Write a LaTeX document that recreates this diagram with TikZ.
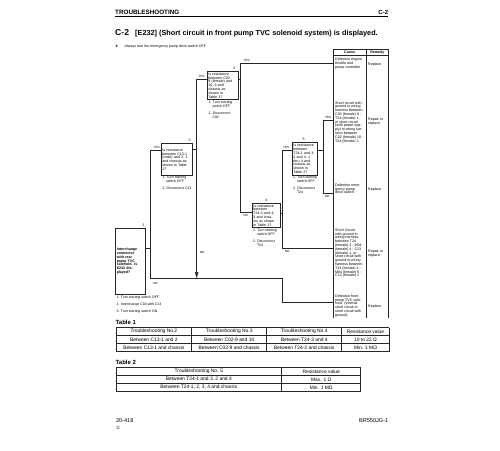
\documentclass[tikz,border=0pt]{standalone}
\usepackage{fontspec}
\setmainfont{Liberation Sans}
\newfontfamily\symfont{DejaVu Sans}
\usetikzlibrary{arrows.meta}
\begin{document}
\begin{tikzpicture}[x=1pt,y=-1pt,
  conn/.style={line width=0.5pt, draw=black!85},
  tline/.style={line width=0.5pt, draw=black!85},
  qbox/.style={draw=black!85, line width=0.5pt, anchor=north west, inner xsep=1.5pt, inner ysep=0pt, align=left, font=\fontsize{3.6}{3.8}\selectfont},
  note/.style={anchor=north west, inner sep=0pt, align=left, font=\fontsize{3.5}{3.6}\selectfont},
  lbl/.style={inner sep=0pt, font=\fontsize{3.0}{3.2}\selectfont},
  num/.style={inner sep=0pt, font=\fontsize{3.6}{3.8}\selectfont},
  cause/.style={anchor=north west, inner sep=0pt, align=left, font=\fontsize{3.6}{3.8}\selectfont},
  cell/.style={inner sep=0pt, font=\fontsize{4.9}{5.5}\selectfont},
  ttl/.style={inner sep=0pt, anchor=base west, font=\bfseries\fontsize{7.3}{8}\selectfont}]
\useasboundingbox (0,0) rectangle (500,450);
\fill[white] (0,0) rectangle (500,450);

% header
\node[inner sep=0pt, anchor=base west, font=\bfseries\fontsize{6.3}{7}\selectfont] (hdl) at (115,14.8) {TROUBLESHOOTING};
\node[inner sep=0pt, anchor=base east, font=\bfseries\fontsize{6}{7}\selectfont] (hdr) at (388.3,14.8) {C-2};
\draw[line width=0.9pt] (hdl.base west) ++(0,1.6) coordinate (rl) -- (rl -| hdr.east);
\node[inner sep=0pt, anchor=base west, font=\bfseries\fontsize{8.6}{9}\selectfont] (tnum) at (115,35.9) {C-2};
\node[ttl] (ttext) at (135,35.7) {[E232] (Short circuit in front pump TVC solenoid system) is displayed.};
\node[inner sep=0pt, anchor=west, font=\symfont\fontsize{3.6}{4}\selectfont] (star) at (115,46.2) {★};
\node[inner sep=0pt, anchor=west, font=\fontsize{3.6}{4}\selectfont] (warn) at (124.5,46.2) {Always turn the emergency pump drive switch OFF.};

% cause / remedy table
\draw[tline] (333.3,49.3) -- (388.7,49.3);
\draw[tline] (333.3,55) -- (388.7,55);
\foreach \x in {333.3,366,388.7} \draw[tline] (\x,49.3) -- (\x,318);
\node[cell, font=\bfseries\fontsize{3.6}{4}\selectfont] (hc) at (349.6,52.3) {Cause};
\node[cell, font=\bfseries\fontsize{3.6}{4}\selectfont] (hr) at (377.3,52.3) {Remedy};
\coordinate (r1) at (333.3,63);
\coordinate (r2) at (333.3,120);
\coordinate (r3) at (333.3,193);
\coordinate (r4) at (333.3,248);
\coordinate (r5) at (333.3,302);

\node[cause] (c1) at (335,57.6) {Defective engine\\throttle and\\pump controller};
\node[cause] (c2) at (335,101.2) {Short circuit with\\ground in wiring\\harness between\\C02 (female) 9 -\\T24 (female) 1,\\or short circuit\\(with power sup-\\ply) in wiring har-\\ness between\\C02 (female) 10 -\\T24 (female) 2};
\node[cause] (c3) at (335,183.5) {Defective emer-\\gency pump\\drive switch};
\node[cause] (c4) at (335,228.5) {Short Circuit\\with ground in\\wiring harness\\between T24\\(female) 3 - M04\\(female) 4 - C13\\(female) 1, or\\short circuit with\\ground in wiring\\harness between\\T24 (female) 4 -\\M04 (female) 5 -\\C13 (female) 2};
\node[cause] (c5) at (335,294.5) {Defective front\\pump TVC sole-\\noid. (Internal\\short circuit or\\short circuit with\\ground)};

\node[cause] (m1) at (368,62.5) {Replace};
\node[cause] (m2) at (368,117.5) {Repair or\\replace};
\node[cause] (m3) at (368,187.5) {Replace};
\node[cause] (m4) at (368,249.5) {Repair or\\replace};
\node[cause] (m5) at (368,304.5) {Replace};

% decision boxes
\node[qbox, text width=27pt, minimum height=66pt, font=\bfseries\fontsize{3.6}{3.8}\selectfont] (n1) at (115,228) {Interchange\\connector\\with rear\\pump TVC\\solenoid. Is\\E232 dis-\\played?};
\node[qbox, text width=28pt, minimum height=31.7pt] (n2) at (160.7,143.3) {Is resistance\\between C13-1\\(male) and 2, 1\\and chassis as\\shown in Table\\1?};
\node[qbox, text width=28.6pt, minimum height=28.3pt] (n3) at (206.7,71) {Is resistance\\between C02-\\9 (female) and\\10, 9 and\\chassis as\\shown in\\Table 1?};
\node[qbox, text width=25.3pt, minimum height=23.4pt] (n4) at (251.7,203.3) {Is resistance\\between\\T24-3 and 4,\\3 and chas-\\sis as shown\\in Table 1?};
\node[qbox, text width=22pt, minimum height=32.7pt] (n5) at (291.7,142.3) {Is resistance\\between\\T24-1 and 3,\\2 and 4, 1\\thru 4 and\\chassis as\\shown in\\Table 2?};

\node[num] (k1) at (143.5,225) {1};
\node[num] (k2) at (189.5,140.3) {2};
\node[num] (k3) at (234,68.2) {3};
\node[num] (k4) at (266,200.5) {4};
\node[num] (k5) at (303.5,139.3) {5};

% notes
\node[note] (p1) at (116.5,295.6) {1. Turn starting switch OFF\\[3.6pt]2. Interchange C04 with C13\\[3.6pt]3. Turn starting switch ON};
\node[note] (p2) at (162.3,176.2) {1. Turn starting\\\hspace*{3.8pt}switch OFF\\[3.3pt]2. Disconnect C13};
\node[note] (p3) at (208.5,101.2) {1. Turn starting\\\hspace*{3.8pt}switch OFF\\[3.3pt]2. Disconnect\\\hspace*{3.8pt}C02};
\node[note] (p4) at (253,229.2) {1. Turn starting\\\hspace*{3.8pt}switch OFF\\[3.3pt]2. Disconnect\\\hspace*{3.8pt}T24};
\node[note] (p5) at (293,176.2) {1. Turn starting\\\hspace*{3.8pt}switch OFF\\[3.3pt]2. Disconnect\\\hspace*{3.8pt}T24};

% junctions
\coordinate (j1) at (150.7,248);
\coordinate (j2) at (196.7,149);
\coordinate (j3) at (240,79.3);
\coordinate (j4) at (282.5,213);
\coordinate (j5) at (323.3,150);
\coordinate (y2) at (0,150);
\coordinate (y3) at (0,79.3);
\coordinate (y4) at (0,212);
\coordinate (y5) at (0,150);
\coordinate (no1) at (282.5,278);

% connectors
\draw[conn] (n1.east |- j1) -- (j1);
\draw[conn] (j1) |- (n2.west |- y2);
\draw[conn] (j1) |- (no1) |- (r5);
\draw[conn] (n2.east |- j2) -- (j2);
\draw[conn] (j2) |- (n3.west |- y3);
\draw[conn, -{Triangle[length=6pt,width=3.4pt]}] (j2) -- (j2 |- no1);
\draw[conn] (n3.east |- j3) -- (j3);
\draw[conn] (j3) |- (r1);
\draw[conn] (j3) |- (n4.west |- y4);
\draw[conn] (n4.east |- j4) -- (j4);
\draw[conn] (j4) |- (n5.west |- y5);
\draw[conn] (j4) |- (r4);
\draw[conn] (n5.east |- j5) -- (j5);
\draw[conn] (j5) |- (r2);
\draw[conn] (j5) |- (r3);

% yes / no labels
\node[lbl] (l1y) at (156.5,147.6) {YES};
\node[lbl] (l1n) at (155.5,283) {NO};
\node[lbl] (l2y) at (201.5,76.8) {YES};
\node[lbl] (l2n) at (202.3,252) {NO};
\node[lbl] (l3y) at (246.5,60.4) {YES};
\node[lbl] (l3n) at (245.8,215) {NO};
\node[lbl] (l4y) at (286,147.6) {YES};
\node[lbl] (l4n) at (287.3,251.5) {NO};
\node[lbl] (l5y) at (328,117.5) {YES};
\node[lbl] (l5n) at (327.3,196) {NO};

% Table 1
\node[inner sep=0pt, anchor=west, font=\bfseries\fontsize{6}{7}\selectfont] (tab1) at (115.5,322.3) {Table 1};
\foreach \x in {116,191.7,266.7,341.7,389.3} \draw[tline] (\x,327.5) -- (\x,351.5);
\foreach \y in {327.5,335.5,343.5,351.5} \draw[tline] (116,\y) -- (389.3,\y);
\node[cell] (a11) at (153.85,331.5) {Troubleshooting No.2};
\node[cell] (a12) at (229.2,331.5) {Troubleshooting No.3};
\node[cell] (a13) at (304.2,331.5) {Troubleshooting No.4};
\node[cell] (a14) at (365.5,331.5) {Resistance value};
\node[cell] (a21) at (153.85,339.5) {Between C13-1 and 2};
\node[cell] (a22) at (229.2,339.5) {Between C02-9 and 10};
\node[cell] (a23) at (304.2,339.5) {Between T24-3 and 4};
\node[cell] (a24) at (365.5,339.5) {10 to 22 Ω};
\node[cell] (a31) at (153.85,347.5) {Between C13-1 and chassis};
\node[cell] (a32) at (229.2,347.5) {Between C02-9 and chassis};
\node[cell] (a33) at (304.2,347.5) {Between T24-3 and chassis};
\node[cell] (a34) at (365.5,347.5) {Min. 1 MΩ};

% Table 2
\node[inner sep=0pt, anchor=west, font=\bfseries\fontsize{6}{7}\selectfont] (tab2) at (115.5,362.3) {Table 2};
\foreach \x in {116,281.7,360.7} \draw[tline] (\x,367.5) -- (\x,391.5);
\foreach \y in {367.5,375.5,383.5,391.5} \draw[tline] (116,\y) -- (360.7,\y);
\node[cell] (b11) at (198.85,371.5) {Troubleshooting No. 5};
\node[cell] (b12) at (321.2,371.5) {Resistance value};
\node[cell] (b21) at (198.85,379.5) {Between T24-1 and 3, 2 and 4};
\node[cell] (b22) at (321.2,379.5) {Max. 1 Ω};
\node[cell] (b31) at (198.85,387.5) {Between T24-1, 2, 3, 4 and chassis};
\node[cell] (b32) at (321.2,387.5) {Min. 1 MΩ};

% footer
\node[inner sep=0pt, anchor=west, font=\fontsize{5.6}{6}\selectfont] (pg) at (115.8,420.8) {20-418};
\node[inner sep=0pt, anchor=west, font=\symfont\fontsize{4.5}{5}\selectfont] (rev) at (115.8,427.6) {①};
\node[inner sep=0pt, anchor=east, font=\fontsize{5.6}{6}\selectfont] (mdl) at (388.5,420.8) {BR550JG-1};
\end{tikzpicture}
\end{document}
